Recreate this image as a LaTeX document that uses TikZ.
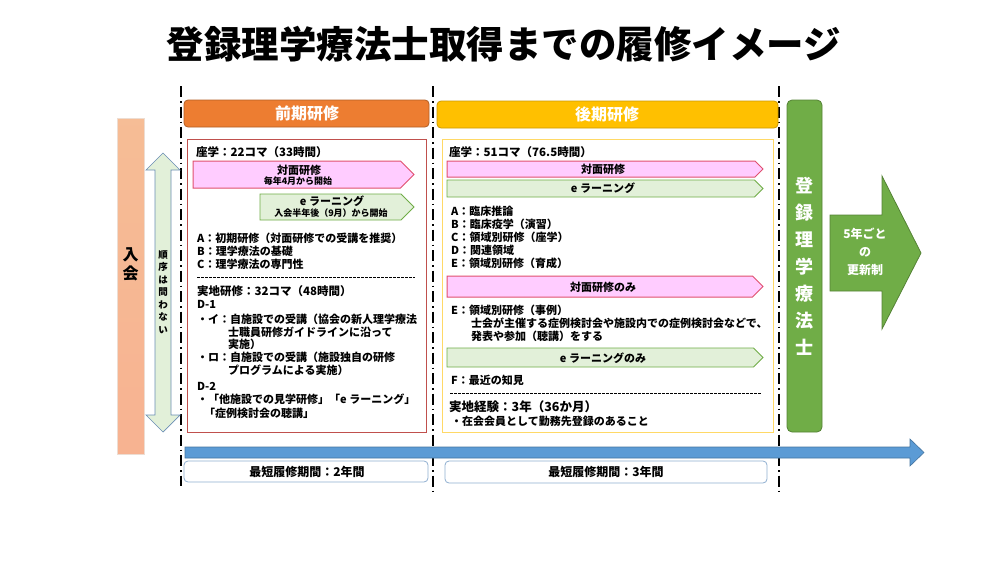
\documentclass[tikz,border=0pt]{standalone}
\usepackage{fontspec}
\setmainfont{Noto Sans CJK JP}
\usetikzlibrary{positioning}
\definecolor{hdorange}{HTML}{ED7D31}
\definecolor{hdgold}{HTML}{FFC000}
\definecolor{pinkfill}{HTML}{FFCCFF}
\definecolor{pinkline}{HTML}{E0506E}
\definecolor{grnfill}{HTML}{E2F0D9}
\definecolor{grnline}{HTML}{70AD47}
\definecolor{boxred}{HTML}{C0504D}
\definecolor{boxgold}{HTML}{FFD966}
\definecolor{regreen}{HTML}{70AD47}
\definecolor{barblue}{HTML}{5B9BD5}
\definecolor{periodline}{HTML}{8FAFD0}
\definecolor{joinfill}{HTML}{F4B183}
\definecolor{orderline}{HTML}{6A8DB4}
\tikzset{
  every node/.style={inner sep=0pt},
  body/.style={anchor=west, font=\fontsize{11}{12}\selectfont\bfseries},
  lead/.style={anchor=west, font=\fontsize{11.5}{13}\selectfont\bfseries},
  tagtext/.style={font=\fontsize{11}{12}\selectfont\bfseries},
  subtext/.style={font=\fontsize{9}{10}\selectfont\bfseries},
  pinkband/.style={fill=pinkfill, draw=pinkline, line width=1pt},
  greenband/.style={fill=grnfill, draw=grnline, line width=0.8pt},
  header/.style={rounded corners=4pt, line width=0.8pt},
  divider/.style={line width=2pt, dash pattern=on 11pt off 4pt on 1.5pt off 4pt},
  sepline/.style={dashed, line width=0.5pt, dash pattern=on 2.5pt off 1.5pt},
  period/.style={rounded corners=4pt, draw=periodline, line width=0.8pt, fill=white}
}
% band arrow: style, x1, y1, x2 (tip), y2
\newcommand\bandarrow[5]{%
  \draw[#1] (#2,#3) -- ({#4-(#5-#3)/2},#3) -- (#4,{(#3+#5)/2})
    -- ({#4-(#5-#3)/2},#5) -- (#2,#5) -- cycle;}
\begin{document}
\begin{tikzpicture}[x=1pt, y=-1pt]
  \useasboundingbox (0,0) rectangle (999,562);
  % title
  \node[font=\fontsize{37.5}{42}\selectfont\bfseries] (title) at (504,44)
    {登録理学療法士取得までの履修イメージ};
  % dividers
  \coordinate (d1t) at (181,86);  \coordinate (d1b) at (181,486);
  \coordinate (d2t) at (433,86);  \coordinate (d2b) at (433,492);
  \coordinate (d3t) at (779,86);  \coordinate (d3b) at (779,492);
  \draw[divider] (d1t) -- (d1b);
  \draw[divider] (d2t) -- (d2b);
  \draw[divider] (d3t) -- (d3b);
  % join bar and order arrow
  \shade[top color=joinfill!85, bottom color=joinfill!90!red!80, draw=joinfill!80!black!30]
    (117,118) rectangle (144,454);
  \node[font=\fontsize{16}{19}\selectfont\bfseries, align=center] (join) at (130.5,264) {入\\会};
  \draw[fill=grnfill, draw=orderline, line width=0.7pt]
    (163,153) -- (180,170) -- (171,170) -- (171,415) -- (180,415) -- (163,432)
    -- (146,415) -- (155,415) -- (155,170) -- (146,170) -- cycle;
  \node[font=\fontsize{9.5}{12.5}\selectfont\bfseries, align=center] (order) at (163,292)
    {順\\序\\は\\問\\わ\\な\\い};
  % headers
  \draw[header, fill=hdorange, draw=hdorange!75!black] (184,100) rectangle (429,127);
  \node[font=\fontsize{16}{18}\selectfont\bfseries, text=white] (early) at (307,113) {前期研修};
  \draw[header, fill=hdgold, draw=hdgold!80!black] (437,101) rectangle (778,128);
  \node[font=\fontsize{16}{18}\selectfont\bfseries, text=white] (late) at (607,114) {後期研修};
  % early box
  \draw[draw=boxred, line width=1pt, fill=white] (187,139) rectangle (426,432);
  \node[lead] (e0) at (196,152) {座学：22コマ（33時間）};
  \bandarrow{pinkband}{193}{161}{414}{188}
  \node[tagtext] (e1) at (299,170) {対面研修};
  \node[subtext] (e2) at (298,181.5) {毎年4月から開始};
  \bandarrow{greenband}{260}{194}{414}{220}
  \node[tagtext] (e3) at (332,201) {e ラーニング};
  \node[subtext] (e4) at (331,213) {入会半年後（9月）から開始};
  \node[body] (e5) at (197,238) {A：初期研修（対面研修での受講を推奨）};
  \node[body] (e6) at (197,251) {B：理学療法の基礎};
  \node[body] (e7) at (197,264) {C：理学療法の専門性};
  \coordinate (es1) at (197,277); \coordinate (es2) at (415,277);
  \draw[sepline] (es1) -- (es2);
  \node[lead] (e8) at (197,291) {実地研修：32コマ（48時間）};
  \node[body] (e9) at (197,304) {D-1};
  \node[body] (e10) at (197,319) {・イ：自施設での受講（協会の新人理学療法};
  \node[body] (e11) at (228,332) {士職員研修ガイドラインに沿って};
  \node[body] (e12) at (228,344) {実施）};
  \node[body] (e13) at (197,357) {・ロ：自施設での受講（施設独自の研修};
  \node[body] (e14) at (228,370) {プログラムによる実施）};
  \node[body] (e15) at (197,386) {D-2};
  \node[body] (e16) at (197,399) {・「他施設での見学研修」「e ラーニング」};
  \node[body] (e17) at (204,413) {「症例検討会の聴講」};
  % late box
  \draw[draw=boxgold, line width=1pt, fill=white] (442,139) rectangle (773,432);
  \node[lead] (l0) at (449,152) {座学：51コマ（76.5時間）};
  \bandarrow{pinkband}{447}{161}{763}{177}
  \node[tagtext] (l1) at (603,169) {対面研修};
  \bandarrow{greenband}{447}{180}{763}{197}
  \node[tagtext] (l2) at (603,188) {e ラーニング};
  \node[body] (l3) at (451,211) {A：臨床推論};
  \node[body] (l4) at (451,224) {B：臨床疫学（演習）};
  \node[body] (l5) at (451,237) {C：領域別研修（座学）};
  \node[body] (l6) at (451,250) {D：関連領域};
  \node[body] (l7) at (451,263) {E：領域別研修（育成）};
  \bandarrow{pinkband}{447}{276}{763}{297}
  \node[tagtext] (l8) at (603,287) {対面研修のみ};
  \node[body] (l9) at (451,310) {E：領域別研修（事例）};
  \node[body] (l10) at (471,323) {士会が主催する症例検討会や施設内での症例検討会などで、};
  \node[body] (l11) at (471,336) {発表や参加（聴講）をする};
  \bandarrow{greenband}{447}{348}{763}{367}
  \node[tagtext] (l12) at (603,358) {e ラーニングのみ};
  \node[body] (l13) at (451,380) {F：最近の知見};
  \coordinate (ls1) at (450,393); \coordinate (ls2) at (762,393);
  \draw[sepline] (ls1) -- (ls2);
  \node[anchor=west, font=\fontsize{12.5}{14}\selectfont\bfseries] (l14) at (449,407)
    {実地経験：3年（36か月）};
  \node[body] (l15) at (451,421) {・在会会員として勤務先登録のあること};
  % registered bar and renewal arrow
  \draw[rounded corners=5pt, fill=regreen, draw=regreen!75!black, line width=0.8pt]
    (787,100) rectangle (822,432);
  \node[font=\fontsize{18}{27}\selectfont\bfseries, text=white, align=center] (reg) at (804.5,266)
    {登\\録\\理\\学\\療\\法\\士};
  \draw[fill=regreen, draw=regreen!75!black, line width=0.8pt]
    (830,215) -- (882,215) -- (882,176) -- (921,253) -- (882,329) -- (882,291)
    -- (830,291) -- cycle;
  \node[font=\fontsize{12}{18}\selectfont\bfseries, text=white, align=center] (renew) at (865,252)
    {5年ごと\\の\\更新制};
  % time axis
  \draw[fill=barblue, draw=barblue!75!black, line width=0.6pt]
    (185,447) -- (910,447) -- (910,439) -- (924,452.5) -- (910,466) -- (910,458)
    -- (185,458) -- cycle;
  \draw[period] (184,461) rectangle (428,482);
  \node[font=\fontsize{12}{13}\selectfont\bfseries] (p1) at (307,471.5) {最短履修期間：2年間};
  \draw[period] (445,461) rectangle (767,483);
  \node[font=\fontsize{12}{13}\selectfont\bfseries] (p2) at (606,472) {最短履修期間：3年間};
\end{tikzpicture}
\end{document}
